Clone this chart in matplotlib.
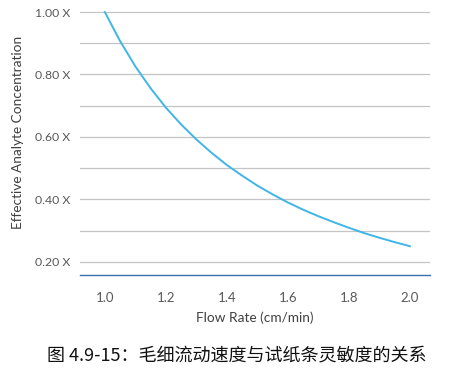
import matplotlib
matplotlib.use('Agg')
from matplotlib import pyplot as plt

# values
flow_rate = [1.00, 1.05, 1.10, 1.15, 1.20, 1.25, 1.30, 1.35, 1.40, 1.45, 1.50,
             1.55, 1.60, 1.65, 1.70, 1.75, 1.80, 1.85, 1.90, 1.95, 2.00]
concentration = [1.000, 0.907, 0.826, 0.756, 0.694, 0.640, 0.592, 0.549, 0.510,
                 0.476, 0.444, 0.416, 0.390, 0.367, 0.346, 0.327, 0.309, 0.292,
                 0.277, 0.263, 0.250]
x_ticks = [1.0, 1.2, 1.4, 1.6, 1.8, 2.0]
y_ticks = [0.2, 0.4, 0.6, 0.8, 1.0]
y_grid = [0.2, 0.3, 0.4, 0.5, 0.6, 0.7, 0.8, 0.9, 1.0]
caption = '图 4.9-15：毛细流动速度与试纸条灵敏度的关系'

plt.rcParams['font.family'] = ['Lato', 'DejaVu Sans']

fig = plt.figure(figsize=(4.56, 3.70), dpi=100)
ax = fig.add_axes([0.175, 0.257, 0.768, 0.713])

for y in y_grid:
    ax.axhline(y, color='#c4c4c4', lw=0.9, zorder=1)

ax.plot(flow_rate, concentration, color='#3fb5e8', lw=1.4, zorder=3)

ax.set_xlim(0.918, 2.066)
ax.set_ylim(0.158, 1.003)
ax.set_xticks(x_ticks)
ax.set_xticklabels([f'{v:.1f}' for v in x_ticks])
ax.set_yticks(y_ticks)
ax.set_yticklabels([f'{v:.2f} X' for v in y_ticks])
ax.tick_params(length=0, labelsize=8.8, colors='#595959', pad=7)
ax.tick_params(axis='x', labelsize=9.5, pad=12)

for side in ['top', 'right', 'left']:
    ax.spines[side].set_visible(False)
ax.spines['bottom'].set_color('#3a6fb0')
ax.spines['bottom'].set_linewidth(1.0)

ax.set_xlabel('Flow Rate (cm/min)', fontsize=9.8, color='#404040', labelpad=6)
ax.set_ylabel('Effective Analyte Concentration', fontsize=9.8, color='#404040',
              labelpad=3)
ax.yaxis.set_label_coords(-0.16, 0.54)

fig.text(0.52, 0.04, caption, ha='center', va='center', fontsize=13,
         color='#111111', family=['Noto Sans CJK SC', 'DejaVu Sans'])

fig.savefig('out.png', dpi=100)
